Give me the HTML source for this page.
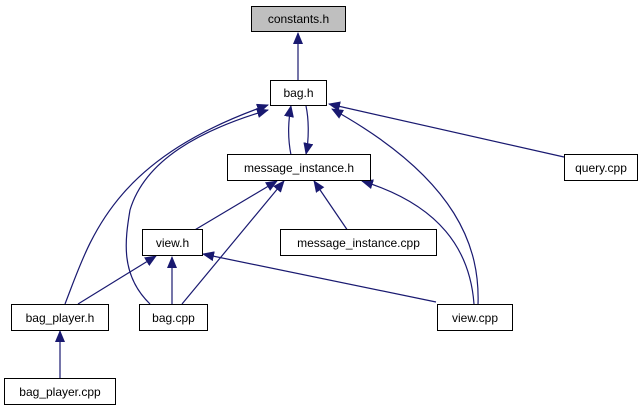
<!DOCTYPE html>
<html><head><meta charset="utf-8"><style>
html,body{margin:0;padding:0;background:#fff;width:644px;height:411px;overflow:hidden}
svg text{font-family:"Liberation Sans",Helvetica,sans-serif;font-size:12px;fill:#000}
</style></head><body>
<svg width="644" height="411" viewBox="0 0 644 411" xmlns="http://www.w3.org/2000/svg">
<defs>
<marker id="a" viewBox="0 0 12 10" refX="11" refY="5" markerWidth="12" markerHeight="10" markerUnits="userSpaceOnUse" orient="auto">
<path d="M0,0 L12,5 L0,10 Z" fill="#191970"/>
</marker>
</defs>
<g fill="none" stroke="#191970" stroke-width="1.2" marker-end="url(#a)">
<path d="M298,80 L298,33"/>
<path d="M291,155 C288,140 288,122 291,106"/>
<path d="M306,106 C309,120 309,140 306,154"/>
<path d="M564,157 L329,104"/>
<path d="M478,305 C480,250 460,180 332,109"/>
<path d="M65,304 C90,240 110,160 268,105"/>
<path d="M150,304 C120,275 125,240 130,210 C145,160 200,130 268,110"/>
<path d="M193,231 L277,181"/>
<path d="M182,304 L284,181"/>
<path d="M348,231 L314,181"/>
<path d="M474,304 C470,250 440,205 362,181"/>
<path d="M78,304 L156,256"/>
<path d="M172,304 L172,257"/>
<path d="M436,302 L203,254"/>
<path d="M60,378 L60,331"/>
</g>
<g stroke="#000" stroke-width="1">
<rect x="251.5" y="6.5" width="94" height="25" fill="#bfbfbf"/>
<rect x="270.5" y="80.5" width="56" height="25" fill="#fff"/>
<rect x="227.5" y="154.5" width="143" height="26" fill="#fff"/>
<rect x="564.5" y="154.5" width="73" height="26" fill="#fff"/>
<rect x="142.5" y="229.5" width="60" height="26" fill="#fff"/>
<rect x="280.5" y="229.5" width="156" height="26" fill="#fff"/>
<rect x="11.5" y="304.5" width="97" height="26" fill="#fff"/>
<rect x="139.5" y="304.5" width="68" height="26" fill="#fff"/>
<rect x="437.5" y="304.5" width="75" height="26" fill="#fff"/>
<rect x="4.5" y="378.5" width="111" height="26" fill="#fff"/>
</g>
<g text-anchor="middle">
<text x="298.5" y="23">constants.h</text>
<text x="298.5" y="97">bag.h</text>
<text x="299" y="172">message_instance.h</text>
<text x="601" y="172">query.cpp</text>
<text x="172.5" y="247">view.h</text>
<text x="358.5" y="247">message_instance.cpp</text>
<text x="60" y="322">bag_player.h</text>
<text x="173.5" y="322">bag.cpp</text>
<text x="475" y="322">view.cpp</text>
<text x="60" y="396">bag_player.cpp</text>
</g>
</svg>
</body></html>
